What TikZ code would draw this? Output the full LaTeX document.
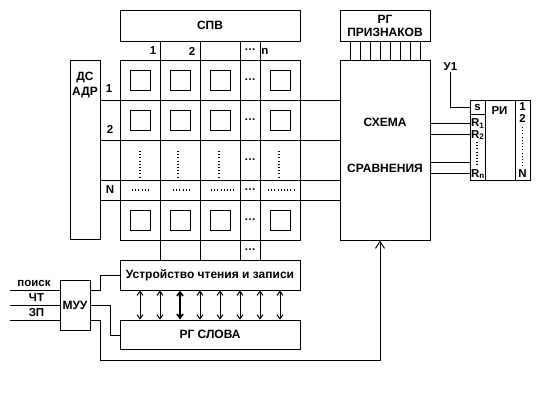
\documentclass[tikz,border=0pt]{standalone}
\usepackage{fontspec}
\setmainfont{Liberation Sans}
\usetikzlibrary{arrows.meta}
\begin{document}
\begin{tikzpicture}[x=1pt,y=-1pt,line width=1pt,
  box/.style={draw,inner sep=0pt,anchor=center,font=\bfseries\fontsize{12}{14}\selectfont},
  txt/.style={inner sep=0pt,font=\bfseries\fontsize{12}{14}\selectfont},
  lbl/.style={inner sep=0pt,font=\bfseries\fontsize{11.5}{13}\selectfont},
  cell/.style={draw,minimum width=20pt,minimum height=20pt,inner sep=0pt},
  dots/.style={line width=1.1pt,dash pattern=on 1pt off 2.2pt},
  dbl/.style={{Straight Barb[length=4pt,width=6pt]}-{Straight Barb[length=4pt,width=6pt]}},
  up/.style={-{Straight Barb[length=7pt,width=9pt]}}]
\fill[white] (0,0) rectangle (550,400);
\useasboundingbox (0,0) rectangle (550,400);

% main boxes
\node[box,minimum width=180pt,minimum height=31pt] (spv) at (210,25.5) {СПВ};
\node[box,minimum width=30pt,minimum height=179pt] (ds) at (85,149.5) {};
\node[txt,align=center,font=\bfseries\fontsize{12}{15}\selectfont] (dstext) at (85,85) {ДС\\АДР};
\node[draw,minimum width=180pt,minimum height=180pt,inner sep=0pt] (grid) at (210,150) {};
\node[box,minimum width=90pt,minimum height=31pt,align=center,font=\bfseries\fontsize{12}{13}\selectfont] (rgp) at (385,25.5) {РГ\\ПРИЗНАКОВ};
\node[box,minimum width=90pt,minimum height=180pt] (scheme) at (385,150) {};
\node[txt] (sch1) at (385,122) {СХЕМА};
\node[txt] (sch2) at (385,168) {СРАВНЕНИЯ};
\node[box,minimum width=60pt,minimum height=80pt] (ri) at (500,140) {};
\node[box,minimum width=180pt,minimum height=30pt] (rw) at (210,275) {Устройство чтения и записи};
\node[box,minimum width=180pt,minimum height=29pt] (rgs) at (210,334.5) {РГ СЛОВА};
\node[box,minimum width=30pt,minimum height=50pt] (muu) at (75,305) {МУУ};

% columns of the matrix
\foreach \x in {160,200,240,260}
  \draw (\x,0 |- spv.south) -- (\x,0 |- rw.north);
% rows of the matrix
\foreach \y in {100,140,180,200}
  \draw (ds.east |- 0,\y) -- (scheme.west |- 0,\y);

% cells
\foreach \cx in {140,180,220,280}
  \foreach \cy in {80,120,220}
    \node[cell] (c-\cx-\cy) at (\cx,\cy) {};

% ellipses in narrow column
\foreach \yy [count=\i] in {50,80,120,160,190,220,250}
  \node[lbl] (el\i) at (250,\yy) {…};

% vertical dots row
\foreach \xx in {140,178,219,279}
  \draw[dots] (\xx,151) -- (\xx,178);
% horizontal dots row N
\draw[dots] (132,190) -- (150,190);
\draw[dots] (173,190) -- (192,190);
\draw[dots] (211,190) -- (234,190);
\draw[dots] (268,190) -- (296,190);

% column / row labels
\node[lbl] (col1) at (153,51) {1};
\node[lbl] (col2) at (192,51) {2};
\node[lbl] (coln) at (265,51) {n};
\node[lbl] (row1) at (109,89) {1};
\node[lbl] (row2) at (110,129) {2};
\node[lbl] (rowN) at (110,190) {N};

% RG priznakov wires
\foreach \x in {350,360,...,420}
  \draw (\x,0 |- rgp.south) -- (\x,0 |- scheme.north);

% RI internals
\draw (485,0 |- ri.north) -- (485,0 |- ri.south);
\draw (515,0 |- ri.north) -- (515,0 |- ri.south);
\draw (ri.west |- 0,114) -- (485,114);
\node[lbl] (ris) at (477.5,107) {s};
\node[lbl] (rit) at (499.5,111) {РИ};
\node[lbl] (ri1) at (522.5,107) {1};
\node[lbl] (ri2) at (522.5,118.5) {2};
\draw[dots] (522.5,127) -- (522.5,167);
\node[lbl] (riN) at (522.5,174) {N};
\node[lbl,anchor=west] (r1) at (470.5,123.5) {R\textsubscript{1}};
\node[lbl,anchor=west] (r2) at (470.5,135) {R\textsubscript{2}};
\draw[dots] (477,142) -- (477,167);
\node[lbl,anchor=west] (rn) at (470.5,174) {R\textsubscript{n}};

% scheme -> RI
\foreach \y in {123,134,162,173}
  \draw (scheme.east |- 0,\y) -- (ri.west |- 0,\y);

% U1
\node[lbl] (u1) at (450.5,67) {У1};
\draw (u1.south) |- (ri.west |- 0,107);

% read/write <-> RG slova
\foreach \x in {140,160,200,220,240,260,280}
  \draw[dbl] (\x,0 |- rw.south) -- (\x,0 |- rgs.north);
\draw[dbl,line width=1.7pt] (180,0 |- rw.south) -- (180,0 |- rgs.north);

% MUU inputs
\coordinate (in1) at (10,290);
\coordinate (in2) at (10,305);
\coordinate (in3) at (10,320);
\draw (in1) -- (muu.west |- in1);
\draw (in2) -- (muu.west |- in2);
\draw (in3) -- (muu.west |- in3);
\node[lbl] (poisk) at (34,283) {поиск};
\node[lbl] (cht) at (36.5,298) {ЧТ};
\node[lbl] (zp) at (36.5,313) {ЗП};

% MUU outputs
\draw (muu.east |- 0,290) -- (100,290) -- (100,275) -- (rw.west |- 0,275);
\draw (muu.east |- 0,305) -- (110,305) -- (110,335) -- (rgs.west |- 0,335);
\draw[up] (muu.east |- 0,320) -- (100,320) -- (100,360) -- (380,360) -- (380,0 |- scheme.south);
\end{tikzpicture}
\end{document}
